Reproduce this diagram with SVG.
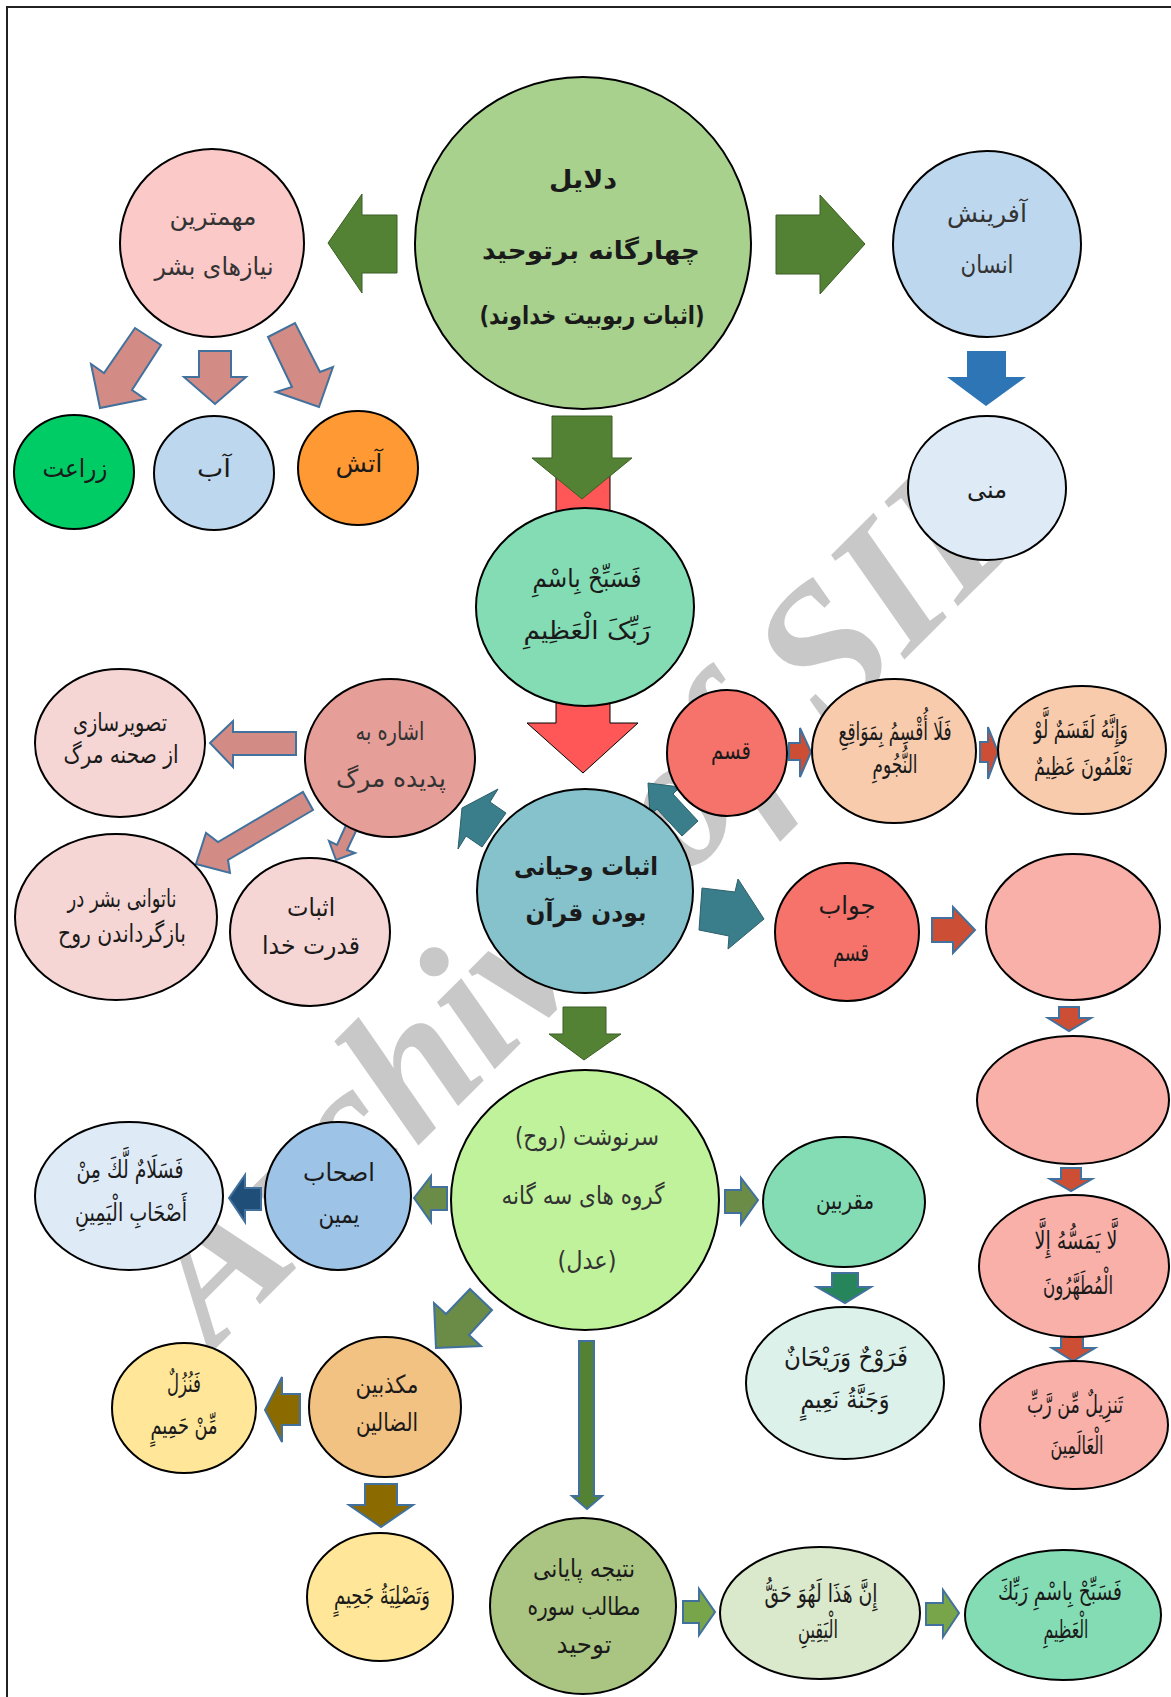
<svg xmlns="http://www.w3.org/2000/svg" width="1171" height="1697" viewBox="0 0 1171 1697">
<style>
.n{stroke:#000;stroke-width:2}
.t{font-family:"DejaVu Sans",sans-serif;font-size:25px;fill:#1a1a1a;text-anchor:middle;dominant-baseline:central;direction:rtl}
.b{font-weight:bold}
.g{fill:#333}
.ag{fill:#548235;stroke:#3b5e24;stroke-width:1}
.ap{fill:#D38C85;stroke:#41719C;stroke-width:2}
.ar{fill:#CC4E35;stroke:#41719C;stroke-width:2}
.ao{fill:#6A8C47;stroke:#41719C;stroke-width:2}
.at{fill:#3A7E8C;stroke:#2c5f6a;stroke-width:1}
.ab{fill:#8B6A00;stroke:#41719C;stroke-width:2}
.al{fill:#78A54A;stroke:#41719C;stroke-width:2}
</style>
<rect x="0" y="0" width="1171" height="1697" fill="#fff"/>
<rect x="7" y="7" width="1200" height="1720" fill="none" stroke="#222" stroke-width="2"/>
<text x="0" y="0" transform="translate(212,1352) rotate(-45)" font-family="Liberation Serif,serif" font-style="italic" font-weight="bold" font-size="192" fill="#C8C8C8">Archive of SID</text>

<g id="connectors">
<polygon class="ag" points="328,243 362,194 362,215 397,215 397,273 362,273 362,293"/>
<polygon class="ag" points="776,215 820,215 820,195 865,244 820,294 820,274 776,274"/>
<polygon fill="#2E75B6" points="967,351 1006,351 1006,377 1026,377 986,406 947,377 967,377"/>
<polygon class="ap" points="135,328 161,345 132,390 145,399 100,408 91,364 104,373"/>
<polygon class="ap" points="199,351 231,351 231,377 246,377 215,404 184,377 199,377"/>
<polygon class="ap" points="268,337 295,323 320,372 333,367 319,407 276,392 292,387"/>
<polygon fill="#FF5757" stroke="#000" stroke-width="1" points="556,460 610,460 610,723 638,723 583,773 527,723 556,723"/>
<polygon class="ag" points="552,416 612,416 612,458 632,458 582,499 532,458 552,458"/>
<polygon class="ap" points="210,743 233,721 233,732 296,732 296,755 233,755 233,767"/>
<polygon class="ap" points="303,792 313,810 228,860 230,873 196,864 206,833 218,842"/>
<polygon class="ap" points="347,823 357,829 347,850 355,853 336,860 329,841 337,845"/>
<polygon class="at" points="462,808 498,789 490,802 506,813 482,847 466,836 458,849"/>
<polygon class="at" points="648,783 680,787 673,794 698,821 682,836 657,809 650,815"/>
<polygon class="ar" points="789,743 800,743 800,728 811,752 800,777 800,760 789,760"/>
<polygon class="ar" points="980,742 988,742 988,727 998,752 988,779 988,762 980,762"/>
<polygon class="at" points="702,888 735,892 738,879 764,919 728,949 729,936 699,930"/>
<polygon class="ar" points="932,918 953,918 953,907 975,930 953,953 953,942 932,942"/>
<polygon class="ar" points="1059,1007 1079,1007 1079,1018 1091,1018 1069,1031 1048,1018 1059,1018"/>
<polygon class="ar" points="1061,1168 1081,1168 1081,1179 1092,1179 1071,1191 1050,1179 1061,1179"/>
<polygon class="ar" points="1061,1337 1083,1337 1083,1348 1095,1348 1073,1361 1052,1348 1061,1348"/>
<polygon class="ag" points="563,1007 606,1007 606,1034 621,1034 584,1060 549,1034 563,1034"/>
<polygon class="ao" points="414,1198 431,1176 431,1187 447,1187 447,1210 431,1210 431,1222"/>
<polygon fill="#1F4E79" stroke="#41719C" stroke-width="2" points="229,1198 245,1175 245,1188 261,1188 261,1210 245,1210 245,1222"/>
<polygon class="ao" points="725,1190 741,1190 741,1178 758,1200 741,1224 741,1213 725,1213"/>
<polygon fill="#26855A" stroke="#41719C" stroke-width="2" points="832,1273 858,1273 858,1287 871,1287 845,1303 817,1287 832,1287"/>
<polygon class="ao" points="470,1289 492,1310 469,1335 481,1346 436,1348 434,1303 446,1314"/>
<polygon class="ab" points="265,1410 282,1377 282,1394 300,1394 300,1425 282,1425 282,1442"/>
<polygon class="ab" points="365,1484 397,1484 397,1505 413,1505 381,1527 349,1505 365,1505"/>
<polygon fill="#548235" stroke="#41719C" stroke-width="2" points="579,1341 594,1341 594,1496 602,1496 587,1509 572,1496 579,1496"/>
<polygon class="al" points="683,1601 699,1601 699,1589 715,1612 699,1635 699,1623 683,1623"/>
<polygon class="al" points="926,1603 943,1603 943,1590 959,1613 943,1637 943,1625 926,1625"/>
</g>

<g id="n-dalayel"><ellipse class="n" cx="583" cy="243" rx="168" ry="166" fill="#A9D18E"/>
<text class="t b" x="583" y="179" font-size="40" textLength="68" lengthAdjust="spacingAndGlyphs">دلایل</text>
<text class="t b" x="591" y="250" font-size="38" textLength="218" lengthAdjust="spacingAndGlyphs">چهارگانه برتوحید</text>
<text class="t b" x="592" y="315" font-size="26" textLength="225" lengthAdjust="spacingAndGlyphs">(اثبات ربوبیت خداوند)</text></g>

<g id="n-niaz"><ellipse class="n" cx="212" cy="243" rx="92" ry="94" fill="#FCC9C9"/>
<text class="t g" x="213" y="216" textLength="87" lengthAdjust="spacingAndGlyphs">مهمترین</text>
<text class="t g" x="214" y="266" textLength="119" lengthAdjust="spacingAndGlyphs">نیازهای بشر</text></g>

<g id="n-afarinesh"><ellipse class="n" cx="987" cy="244" rx="94" ry="93" fill="#BDD7EE"/>
<text class="t g" x="987" y="213" textLength="80" lengthAdjust="spacingAndGlyphs">آفرینش</text>
<text class="t g" x="987" y="264" textLength="53" lengthAdjust="spacingAndGlyphs">انسان</text></g>

<g id="n-mani"><ellipse class="n" cx="987" cy="488" rx="79" ry="72" fill="#DEEBF7"/>
<text class="t" x="987" y="489" font-size="27" textLength="40" lengthAdjust="spacingAndGlyphs">منی</text></g>

<g id="n-zeraat"><ellipse class="n" cx="74" cy="472" rx="60" ry="57" fill="#00CC66"/>
<text class="t" x="75" y="468" font-size="27" textLength="65" lengthAdjust="spacingAndGlyphs">زراعت</text></g>
<g id="n-ab"><ellipse class="n" cx="214" cy="473" rx="60" ry="57" fill="#BDD7EE"/>
<text class="t" x="214" y="468" font-size="27" textLength="34" lengthAdjust="spacingAndGlyphs">آب</text></g>
<g id="n-atash"><ellipse class="n" cx="358" cy="468" rx="60" ry="57" fill="#FF9933"/>
<text class="t" x="359" y="463" font-size="27" textLength="47" lengthAdjust="spacingAndGlyphs">آتش</text></g>

<g id="n-fasabbih"><ellipse class="n" cx="585" cy="607" rx="109" ry="99" fill="#84DCB4"/>
<text class="t" x="587" y="578" font-size="30" textLength="109" lengthAdjust="spacingAndGlyphs">فَسَبِّحْ بِاسْمِ</text>
<text class="t" x="587" y="630" font-size="30" textLength="127" lengthAdjust="spacingAndGlyphs">رَبِّکَ الْعَظِیمِ</text></g>

<g id="n-qasam"><ellipse class="n" cx="727" cy="753" rx="60" ry="63" fill="#F5736A"/>
<text class="t" x="731" y="750" textLength="40" lengthAdjust="spacingAndGlyphs">قسم</text></g>

<g id="n-fala"><ellipse class="n" cx="894" cy="751" rx="82" ry="72" fill="#F8CBAD"/>
<text class="t" x="895" y="731" textLength="113" lengthAdjust="spacingAndGlyphs">فَلَا أُقْسِمُ بِمَوَاقِعِ</text>
<text class="t" x="895" y="764" textLength="45" lengthAdjust="spacingAndGlyphs">النُّجُومِ</text></g>

<g id="n-innahu"><ellipse class="n" cx="1082" cy="750" rx="84" ry="64" fill="#F8CBAD"/>
<text class="t" x="1081" y="729" textLength="94" lengthAdjust="spacingAndGlyphs">وَإِنَّهُ لَقَسَمٌ لَّوْ</text>
<text class="t" x="1083" y="766" textLength="98" lengthAdjust="spacingAndGlyphs">تَعْلَمُونَ عَظِيمٌ</text></g>

<g id="n-tasvir"><ellipse class="n" cx="120" cy="743" rx="85" ry="74" fill="#F5D6D4"/>
<text class="t" x="120" y="722" textLength="94" lengthAdjust="spacingAndGlyphs">تصویرسازی</text>
<text class="t" x="121" y="754" textLength="115" lengthAdjust="spacingAndGlyphs">از صحنه مرگ</text></g>

<g id="n-eshare"><ellipse class="n" cx="390" cy="758" rx="85" ry="79" fill="#E59E98"/>
<text class="t g" x="390" y="731" textLength="69" lengthAdjust="spacingAndGlyphs">اشاره به</text>
<text class="t g" x="391" y="778" textLength="110" lengthAdjust="spacingAndGlyphs">پدیده مرگ</text></g>

<g id="n-natavani"><ellipse class="n" cx="116" cy="917" rx="101" ry="83" fill="#F5D6D4"/>
<text class="t" x="122" y="898" textLength="109" lengthAdjust="spacingAndGlyphs">ناتوانی بشر در</text>
<text class="t" x="122" y="933" textLength="128" lengthAdjust="spacingAndGlyphs">بازگرداندن روح</text></g>

<g id="n-qodrat"><ellipse class="n" cx="310" cy="932" rx="80" ry="74" fill="#F5D6D4"/>
<text class="t" x="311" y="907" textLength="48" lengthAdjust="spacingAndGlyphs">اثبات</text>
<text class="t" x="311" y="945" textLength="98" lengthAdjust="spacingAndGlyphs">قدرت خدا</text></g>

<g id="n-vahy"><ellipse class="n" cx="585" cy="891" rx="108" ry="102" fill="#86C2CC"/>
<text class="t b" x="586" y="866" font-size="32" textLength="144" lengthAdjust="spacingAndGlyphs">اثبات وحیانی</text>
<text class="t b" x="586" y="912" font-size="32" textLength="121" lengthAdjust="spacingAndGlyphs">بودن قرآن</text></g>

<g id="n-javab"><ellipse class="n" cx="847" cy="932" rx="72" ry="69" fill="#F5736A"/>
<text class="t" x="847" y="905" textLength="57" lengthAdjust="spacingAndGlyphs">جواب</text>
<text class="t" x="851" y="952" textLength="36" lengthAdjust="spacingAndGlyphs">قسم</text></g>

<g id="n-empty1"><ellipse class="n" cx="1073" cy="927" rx="87" ry="73" fill="#F8B0A9"/></g>
<g id="n-empty2"><ellipse class="n" cx="1073" cy="1100" rx="96" ry="64" fill="#F8B0A9"/></g>

<g id="n-layamassuhu"><ellipse class="n" cx="1074" cy="1266" rx="95" ry="71" fill="#F8B0A9"/>
<text class="t" x="1076" y="1240" textLength="83" lengthAdjust="spacingAndGlyphs">لَّا يَمَسُّهُ إِلَّا</text>
<text class="t" x="1078" y="1285" textLength="70" lengthAdjust="spacingAndGlyphs">الْمُطَهَّرُونَ</text></g>

<g id="n-tanzil"><ellipse class="n" cx="1074" cy="1425" rx="94" ry="64" fill="#F8B0A9"/>
<text class="t" x="1075" y="1404" textLength="96" lengthAdjust="spacingAndGlyphs">تَنزِيلٌ مِّن رَّبِّ</text>
<text class="t" x="1077" y="1445" textLength="53" lengthAdjust="spacingAndGlyphs">الْعَالَمِينَ</text></g>

<g id="n-sarnevesht"><ellipse class="n" cx="585" cy="1200" rx="134" ry="130" fill="#BFF29A"/>
<text class="t g" x="587" y="1136" textLength="144" lengthAdjust="spacingAndGlyphs">سرنوشت (روح)</text>
<text class="t g" x="583" y="1195" textLength="163" lengthAdjust="spacingAndGlyphs">گروه های سه گانه</text>
<text class="t g" x="587" y="1260" textLength="59" lengthAdjust="spacingAndGlyphs">(عدل)</text></g>

<g id="n-moqarrabin"><ellipse class="n" cx="844" cy="1202" rx="81" ry="65" fill="#84DCB4"/>
<text class="t" x="845" y="1200" textLength="58" lengthAdjust="spacingAndGlyphs">مقربین</text></g>

<g id="n-farawh"><ellipse class="n" cx="845" cy="1383" rx="99" ry="76" fill="#DCF1EA"/>
<text class="t" x="846" y="1357" font-size="27" textLength="124" lengthAdjust="spacingAndGlyphs">فَرَوْحٌ وَرَيْحَانٌ</text>
<text class="t" x="845" y="1399" font-size="27" textLength="89" lengthAdjust="spacingAndGlyphs">وَجَنَّةُ نَعِيمٍ</text></g>

<g id="n-ashab"><ellipse class="n" cx="338" cy="1196" rx="73" ry="74" fill="#9DC3E6"/>
<text class="t" x="339" y="1172" textLength="72" lengthAdjust="spacingAndGlyphs">اصحاب</text>
<text class="t" x="339" y="1214" textLength="41" lengthAdjust="spacingAndGlyphs">یمین</text></g>

<g id="n-fasalam"><ellipse class="n" cx="129" cy="1196" rx="94" ry="74" fill="#DEEBF7"/>
<text class="t" x="130" y="1169" textLength="107" lengthAdjust="spacingAndGlyphs">فَسَلَامٌ لَّكَ مِنْ</text>
<text class="t" x="131" y="1212" textLength="112" lengthAdjust="spacingAndGlyphs">أَصْحَابِ الْيَمِينِ</text></g>

<g id="n-mokazzebin"><ellipse class="n" cx="385" cy="1407" rx="76" ry="70" fill="#F2C283"/>
<text class="t" x="387" y="1384" textLength="63" lengthAdjust="spacingAndGlyphs">مکذبین</text>
<text class="t" x="387" y="1422" textLength="62" lengthAdjust="spacingAndGlyphs">الضالین</text></g>

<g id="n-fanozol"><ellipse class="n" cx="184" cy="1408" rx="72" ry="65" fill="#FFE699"/>
<text class="t" x="184" y="1383" textLength="34" lengthAdjust="spacingAndGlyphs">فَنُزُلٌ</text>
<text class="t" x="184" y="1425" textLength="67" lengthAdjust="spacingAndGlyphs">مِّنْ حَمِيمٍ</text></g>

<g id="n-tasliya"><ellipse class="n" cx="380" cy="1597" rx="73" ry="64" fill="#FFE699"/>
<text class="t" x="382" y="1595" textLength="96" lengthAdjust="spacingAndGlyphs">وَتَصْلِيَةُ جَحِيمٍ</text></g>

<g id="n-natije"><ellipse class="n" cx="583" cy="1606" rx="93" ry="88" fill="#AAC582"/>
<text class="t" x="584" y="1568" textLength="102" lengthAdjust="spacingAndGlyphs">نتیجه پایانی</text>
<text class="t" x="584" y="1606" textLength="113" lengthAdjust="spacingAndGlyphs">مطالب سوره</text>
<text class="t" x="584" y="1644" textLength="55" lengthAdjust="spacingAndGlyphs">توحید</text></g>

<g id="n-inna"><ellipse class="n" cx="820" cy="1613" rx="100" ry="66" fill="#DAE8CC"/>
<text class="t" x="821" y="1593" textLength="113" lengthAdjust="spacingAndGlyphs">إِنَّ هَذَا لَهُوَ حَقُّ</text>
<text class="t" x="818" y="1629" textLength="40" lengthAdjust="spacingAndGlyphs">الْيَقِينِ</text></g>

<g id="n-fasabbih2"><ellipse class="n" cx="1063" cy="1615" rx="98" ry="65" fill="#84DCB4"/>
<text class="t" x="1060" y="1591" textLength="124" lengthAdjust="spacingAndGlyphs">فَسَبِّحْ بِاسْمِ رَبِّكَ</text>
<text class="t" x="1066" y="1629" textLength="45" lengthAdjust="spacingAndGlyphs">الْعَظِيمِ</text></g>
</svg>
